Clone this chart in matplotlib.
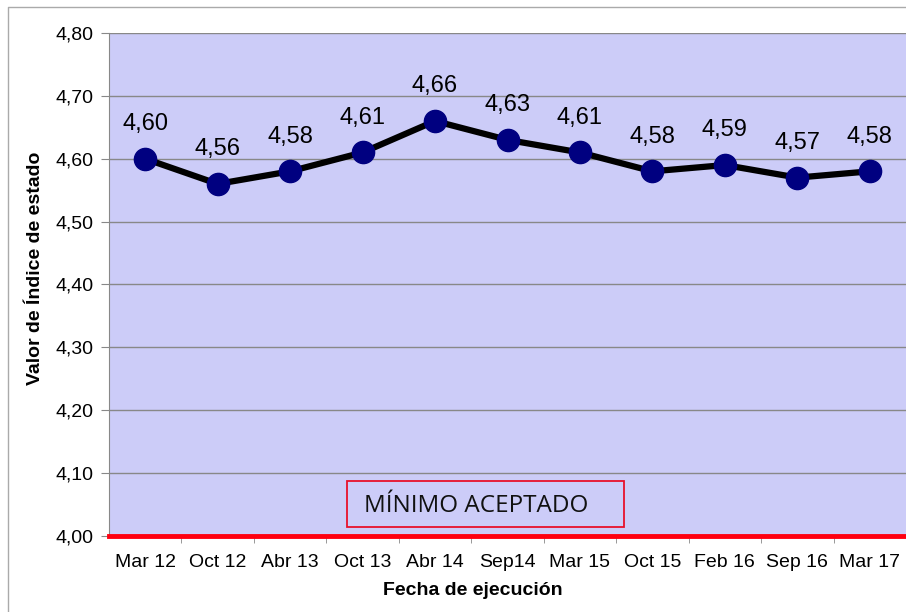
import matplotlib
matplotlib.use("Agg")
import matplotlib.pyplot as plt
from matplotlib.patches import Rectangle
from matplotlib.lines import Line2D

categories = ["Mar 12", "Oct 12", "Abr 13", "Oct 13", "Abr 14", "Sep14",
              "Mar 15", "Oct 15", "Feb 16", "Sep 16", "Mar 17"]
values = [4.60, 4.56, 4.58, 4.61, 4.66, 4.63, 4.61, 4.58, 4.59, 4.57, 4.58]
y_ticks = [4.00, 4.10, 4.20, 4.30, 4.40, 4.50, 4.60, 4.70, 4.80]
minimum = 4.00
min_label = "MÍNIMO ACEPTADO"

plt.rcParams['font.family'] = ['Liberation Sans', 'DejaVu Sans']

W, H = 906, 612
fig = plt.figure(figsize=(W / 100, H / 100), dpi=100)
ax = fig.add_axes([109 / W, 1 - 536 / H, (906 - 109) / W, (536 - 33) / H])
ax.set_facecolor("#CCCCF8")

x = list(range(len(categories)))
ax.set_xlim(-0.5, len(categories) - 0.5)
ax.set_ylim(4.0, 4.8)

ax.set_yticks(y_ticks)
ax.set_yticklabels([f"{v:.2f}".replace(".", ",") for v in y_ticks], fontsize=14)
ax.yaxis.grid(True, color="#888888", linewidth=1.0)
ax.set_axisbelow(True)

ax.set_xticks(x)
ax.set_xticklabels(categories, fontsize=14)
ax.tick_params(axis="x", length=0, pad=13)
ax.set_xticks([i + 0.5 for i in x[:-1]], minor=True)
ax.tick_params(axis="x", which="minor", length=5, color="#888888")
ax.tick_params(axis="y", length=6, color="#888888", pad=5)

for s in ["top", "right"]:
    ax.spines[s].set_visible(False)
ax.spines["left"].set_color("#888888")
ax.spines["bottom"].set_visible(False)

ax.axhline(minimum, color="#FF0010", linewidth=3.5, zorder=3, clip_on=False)

ax.plot(x, values, color="black", linewidth=4.5, marker="o", markersize=16,
        markerfacecolor="#000080", markeredgecolor="#000080", zorder=4)
for xi, v in zip(x, values):
    ax.annotate(f"{v:.2f}".replace(".", ","), (xi, v), textcoords="offset points",
                xytext=(0, 25), ha="center", va="center", fontsize=17)

ax.set_xlabel("Fecha de ejecución", fontsize=14, fontweight="bold")
ax.set_ylabel("Valor de Índice de estado", fontsize=14, fontweight="bold")
ax.xaxis.set_label_coords((473 - 109) / (906 - 109), -(582 - 536) / (536 - 33))
ax.yaxis.set_label_coords(-(109 - 44) / (906 - 109), (536 - 268) / (536 - 33))

# "MÍNIMO ACEPTADO" box
fig.patches.append(Rectangle((347 / W, 1 - 527 / H), (624 - 347) / W, (527 - 481) / H,
                             transform=fig.transFigure, fill=False,
                             edgecolor="#E8102A", linewidth=1.3))
fig.text(476 / W, 1 - 506 / H, min_label, ha="center", va="center",
         fontsize=17.5, family=["Open Sans", "DejaVu Sans"], color="#111111")

# outer frame
fig.lines.append(Line2D([8 / W, 8 / W, 1.0], [0, 1 - 7 / H, 1 - 7 / H],
                        transform=fig.transFigure, color="#AAAAAA", linewidth=1.0))

fig.savefig("out.png", dpi=100)
